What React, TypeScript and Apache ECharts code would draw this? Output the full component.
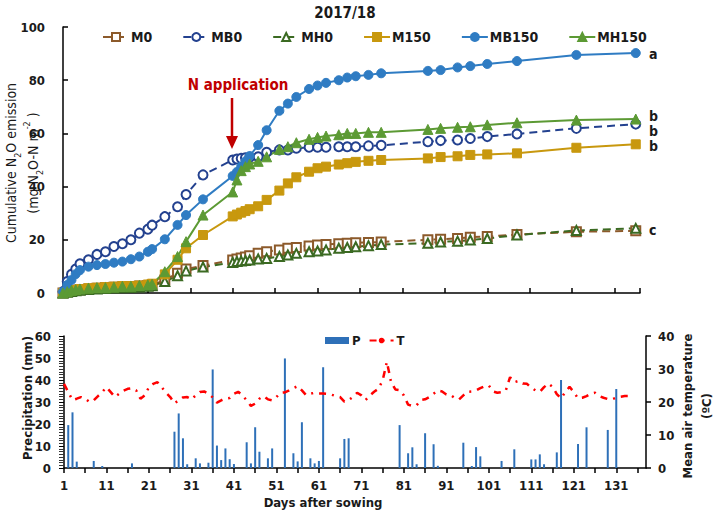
import React, { useEffect, useRef } from "react";
import * as echarts from "echarts";

const FONT = '"Liberation Sans Narrow", "DejaVu Sans Condensed", Lato, sans-serif';

// sampling days (index = day after sowing - 1)
const sampleDays = [0, 1, 2, 3, 4, 6, 8, 10, 12, 14, 16, 18, 20, 21, 24, 27, 29, 33, 40, 41, 42, 43, 44, 46, 48, 51, 53, 55, 58, 60, 62, 65, 67, 69, 72, 75, 86, 89, 93, 96, 100, 107, 121, 135];

const M0 = [0, 0.5, 0.8, 1, 1.2, 1.5, 1.8, 2, 2.2, 2.3, 2.4, 2.6, 2.8, 3, 4.9, 7.4, 9, 10.3, 12.4, 12.8, 13.2, 13.5, 14, 14.9, 15.5, 16.2, 16.8, 17.1, 17.7, 18, 18.2, 18.5, 18.7, 18.9, 19, 19.2, 20, 20.2, 20.5, 21, 21.2, 22, 23, 23.4];
const MB0 = [0.5, 4.3, 7, 9, 11, 12.5, 14.5, 15.5, 17.5, 18.5, 20, 22.5, 24, 25.5, 28.7, 32.4, 37, 44.4, 50, 50.4, 50.6, 50.8, 51, 51.2, 52.9, 53.8, 53.8, 54.4, 54.8, 54.8, 54.8, 55, 55, 55, 55.3, 55.5, 56.9, 57.3, 57.5, 58.1, 58.8, 59.8, 61.9, 63.5];
const MH0 = [0, 0.3, 0.6, 0.8, 1, 1.3, 1.5, 1.7, 1.9, 2, 2.1, 2.3, 2.5, 2.7, 4.3, 6.5, 8.3, 9.8, 11.5, 11.8, 12, 12.2, 12.4, 12.8, 13, 13.7, 14.3, 14.9, 15.5, 15.8, 16.2, 16.8, 17.1, 17.4, 17.8, 18.2, 18.7, 19.2, 19.5, 19.9, 20.5, 21.8, 23.5, 24.3];
const M150 = [0, 0.5, 1, 1.2, 1.5, 1.8, 2, 2.2, 2.4, 2.6, 2.6, 2.8, 3.2, 3.5, 7, 12.5, 16.8, 21.8, 28.8, 29.5, 30.2, 30.8, 31.5, 32.6, 35, 38.5, 41.2, 43.5, 45.6, 46.9, 47.5, 48.3, 48.8, 49.3, 49.7, 50, 50.6, 51.1, 51.4, 51.9, 52.1, 52.5, 54.6, 55.9];
const MB150 = [0.5, 3, 4.9, 7.1, 8.6, 9.9, 10.5, 10.9, 11.4, 11.8, 12.7, 13.7, 15.5, 16.5, 20.2, 25.6, 29.3, 35.2, 44, 45.5, 47.5, 49.5, 51.5, 55.6, 61.2, 68.5, 71.2, 73.7, 76.7, 78, 79, 80, 81, 81.5, 82, 82.6, 83.5, 83.8, 84.8, 85.3, 86.1, 87.2, 89.5, 90.2];
const MH150 = [0, 0.5, 1, 1.2, 1.5, 1.8, 2, 2, 2.2, 2.5, 2.5, 2.8, 3, 3.3, 8, 13.7, 19.3, 29.3, 38, 42.5, 46, 47.5, 48.5, 49.5, 51.2, 54, 55, 56.5, 57.8, 58.5, 59, 59.5, 60, 60, 60.4, 60.4, 61.5, 61.9, 62.3, 62.5, 63.2, 64, 65, 65.4];

const sigLetters = ["a", "b", "b", "b", "c"];

// precipitation (mm) by day index
const precipDays = [1, 2, 3, 7, 9, 16, 26, 27, 28, 29, 31, 32, 34, 35, 36, 37, 38, 39, 40, 43, 44, 45, 46, 48, 49, 52, 54, 55, 56, 58, 59, 60, 61, 65, 66, 67, 79, 81, 82, 83, 85, 87, 88, 94, 96, 97, 98, 103, 106, 110, 111, 112, 113, 116, 117, 121, 123, 128, 130];
const precip = [19.5, 25.3, 2.9, 3.2, 0.9, 2.1, 16.5, 24.8, 13.5, 1.7, 4.4, 2.1, 2.4, 44.8, 10.2, 3.6, 8.9, 4, 1.8, 11.7, 2.1, 18.5, 7.4, 4.4, 8.9, 49.8, 6.7, 3, 20.8, 4.4, 2.1, 3.2, 45.8, 4.4, 13.2, 13.5, 19.5, 6.7, 9.4, 1.7, 15.8, 10.8, 1, 11.5, 0.9, 9.5, 5.3, 3.2, 8.5, 3.9, 3.9, 6.2, 1.7, 7.1, 40, 10.9, 18.5, 17.3, 35.9];

// mean air temperature (ºC), daily from day index 0
const temp = [25.5, 23, 20.6, 21, 21.5, 21, 20, 20.5, 21.8, 23, 24.5, 23, 21.5, 22.5, 23.4, 24, 24.2, 23.5, 21, 22, 24.5, 25.5, 26, 24.5, 22.8, 21.5, 19.6, 20.5, 21.4, 21.5, 20.8, 22, 23, 23.2, 22.5, 21.4, 19.8, 20.5, 21.1, 21.2, 22.5, 23.1, 22, 20.5, 18.8, 19.5, 21, 21.8, 20.8, 20.5, 21.5, 22.8, 22.9, 23.5, 24.2, 24.8, 23.5, 22.1, 22.5, 22.8, 22.6, 22.6, 22.5, 22.2, 21.8, 21.5, 20.1, 20.6, 21.5, 22.8, 22, 20.6, 22, 23.1, 24, 26.5, 32.2, 26, 23.8, 23.6, 22, 19.2, 18.8, 19, 20.6, 20.8, 21.5, 22.5, 23.5, 23.2, 22.3, 22.1, 21.2, 20.8, 22, 23.1, 23.2, 23.5, 24.2, 24.8, 25, 23.2, 22.8, 23, 23.5, 27.5, 26, 26.4, 25.6, 25.5, 24.3, 23.5, 23.1, 24.5, 25.6, 24.6, 22.4, 21.1, 23, 24.6, 23, 21.1, 21.3, 21.8, 22.5, 22.8, 21.8, 21.3, 20.9, 20.8, 21.3, 21.6, 21.8, 21.8];

const dayTicks = 10;

function pairs(xs: number[], ys: number[]) {
  return xs.map((x, i) => [x, ys[i]]);
}

export default function App() {
  const ref = useRef<HTMLDivElement>(null);
  useEffect(() => {
    if (!ref.current) return;
    const chart = echarts.init(ref.current, null, { renderer: "svg" });
    const axisLineStyle = { color: "#000", width: 1.5 };
    const lbl = { color: "#1a1a1a", fontFamily: FONT, fontWeight: "bold" as const, fontSize: 13 };

    const lineSeries = (name: string, data: number[], color: string, symbol: string, dashed: boolean, size: number) => ({
      name,
      type: "line",
      xAxisIndex: 0,
      yAxisIndex: 0,
      data: pairs(sampleDays, data),
      symbol,
      symbolSize: size,
      showSymbol: true,
      lineStyle: { color, width: 2, type: dashed ? [8, 5] : "solid" },
      itemStyle: { color, borderColor: color, borderWidth: dashed ? 1.5 : 1 },
      emphasis: { disabled: true },
    });

    const option: any = {
      animation: false,
      backgroundColor: "#fff",
      title: {
        text: "2017/18",
        left: 340,
        top: 0,
        textAlign: "center",
        textStyle: { fontFamily: FONT, fontWeight: "bold", fontSize: 15, color: "#1a1a1a" },
      },
      legend: [
        {
          data: ["M0", "MB0", "MH0", "M150", "MB150", "MH150"],
          left: 97,
          top: 25,
          itemWidth: 26,
          itemHeight: 10,
          itemGap: 30,
          textStyle: { fontFamily: FONT, fontWeight: "bold", fontSize: 14, color: "#1a1a1a", padding: [0, 0, 0, -3] },
        },
        {
          data: [
            { name: "P", icon: "rect" },
            { name: "T" },
          ],
          left: 320,
          top: 329,
          itemWidth: 24,
          itemHeight: 7,
          itemGap: 8,
          textStyle: { fontFamily: FONT, fontWeight: "bold", fontSize: 13, color: "#1a1a1a", padding: [0, 0, 0, -2] },
        },
      ],
      grid: [
        { left: 63, right: 74, top: 27, height: 266 },
        { left: 64, right: 68, top: 336, height: 132 },
      ],
      xAxis: [
        {
          gridIndex: 0,
          type: "value",
          min: 0,
          max: 136,
          interval: dayTicks,
          axisLine: { show: true, onZero: false, lineStyle: axisLineStyle },
          axisTick: { show: true, inside: true, length: 5, lineStyle: { color: "#000", width: 1.5 } },
          axisLabel: { show: false },
          splitLine: { show: false },
        },
        {
          gridIndex: 1,
          type: "value",
          min: 0,
          max: 137,
          interval: 5,
          axisLine: { show: true, onZero: false, lineStyle: axisLineStyle },
          axisTick: { show: true, inside: false, length: 5, lineStyle: { color: "#000", width: 1.5 } },
          axisLabel: {
            ...lbl,
            fontSize: 13,
            margin: 11,
            showMaxLabel: false,
            formatter: (v: number) => (v % dayTicks === 0 ? String(v + 1) : ""),
          },
          splitLine: { show: false },
        },
      ],
      yAxis: [
        {
          gridIndex: 0,
          type: "value",
          min: 0,
          max: 100,
          interval: 20,
          axisLine: { show: true, lineStyle: axisLineStyle },
          axisTick: { show: true, inside: true, length: 5, lineStyle: { color: "#000", width: 1.5 } },
          axisLabel: { ...lbl, fontSize: 13, margin: 18 },
          splitLine: { show: false },
        },
        {
          gridIndex: 1,
          type: "value",
          min: 0,
          max: 60,
          interval: 10,
          axisLine: { show: true, lineStyle: axisLineStyle },
          axisTick: { show: true, length: 5, lineStyle: { color: "#000", width: 1 } },
          minorTick: { show: true, splitNumber: 8, length: 5, lineStyle: { color: "#333", width: 1 } },
          axisLabel: { ...lbl, fontSize: 13, margin: 13 },
          splitLine: { show: false },
        },
        {
          gridIndex: 1,
          type: "value",
          position: "right",
          min: 0,
          max: 40,
          interval: 10,
          axisLine: { show: true, lineStyle: axisLineStyle },
          axisTick: { show: true, length: 5, lineStyle: { color: "#000", width: 1.5 } },
          axisLabel: { ...lbl, fontSize: 13, margin: 12 },
          splitLine: { show: false },
        },
      ],
      series: [
        lineSeries("M0", M0, "#8c5a2b", "emptyRect", true, 9),
        lineSeries("MB0", MB0, "#23418f", "emptyCircle", true, 9),
        lineSeries("MH0", MH0, "#3b6a22", "emptyTriangle", true, 9),
        lineSeries("M150", M150, "#c8980e", "rect", false, 9),
        lineSeries("MB150", MB150, "#2f7cc3", "circle", false, 9),
        lineSeries("MH150", MH150, "#5c9a34", "triangle", false, 10),
        {
          name: "P",
          type: "bar",
          xAxisIndex: 1,
          yAxisIndex: 1,
          data: pairs(precipDays, precip),
          barWidth: 2,
          itemStyle: { color: "#2e70b8" },
          emphasis: { disabled: true },
        },
        {
          name: "T",
          type: "line",
          xAxisIndex: 1,
          yAxisIndex: 2,
          data: temp.map((t, i) => [i, t]),
          showSymbol: false,
          symbol: "none",
          lineStyle: { color: "#ff0000", width: 2.5, type: [7, 6, 2, 6] },
          itemStyle: { color: "#ff0000" },
          emphasis: { disabled: true },
        },
      ],
      graphic: [
        {
          type: "text",
          x: 22,
          y: 163,
          rotation: Math.PI / 2,
          style: {
            text: "{a|Cumulative N}{s|2}{a|O emission}\n{a|(mg N}{s|2}{a|O-N m}{p|-2}{a| )}",
            align: "center",
            verticalAlign: "middle",
            fill: "#1a1a1a",
            rich: {
              a: { fontFamily: FONT, fontSize: 14, lineHeight: 22, fill: "#1a1a1a" },
              s: { fontFamily: FONT, fontSize: 9, lineHeight: 22, verticalAlign: "bottom", fill: "#1a1a1a" },
              p: { fontFamily: FONT, fontSize: 9, lineHeight: 22, verticalAlign: "top", fill: "#1a1a1a" },
            },
          },
        },
        {
          type: "text",
          x: 27,
          y: 398,
          rotation: Math.PI / 2,
          style: { text: "Precipitation (mm)", align: "center", verticalAlign: "middle", fontFamily: FONT, fontWeight: "bold", fontSize: 13, fill: "#1a1a1a" },
        },
        {
          type: "text",
          x: 697,
          y: 406,
          rotation: Math.PI / 2,
          style: { text: "Mean air temperature\n(ºC)", align: "center", verticalAlign: "middle", lineHeight: 19, fontFamily: FONT, fontWeight: "bold", fontSize: 13, fill: "#1a1a1a" },
        },
        {
          type: "text",
          x: 323,
          y: 502,
          style: { text: "Days after sowing", align: "center", verticalAlign: "middle", fontFamily: FONT, fontWeight: "bold", fontSize: 13, fill: "#1a1a1a" },
        },
        {
          type: "text",
          x: 238,
          y: 85,
          style: { text: "N application", align: "center", verticalAlign: "middle", fontFamily: FONT, fontWeight: "bold", fontSize: 15, fill: "#c00000" },
        },
        { type: "line", shape: { x1: 232, y1: 98, x2: 232, y2: 140 }, style: { stroke: "#c00000", lineWidth: 2.5 } },
        { type: "polygon", shape: { points: [[226, 136], [238, 136], [232, 149]] }, style: { fill: "#c00000" } },
        ...[54, 116, 131, 146, 230].map((y, i) => ({
          type: "text",
          x: 649,
          y,
          style: { text: sigLetters[i], align: "left", verticalAlign: "middle", fontFamily: FONT, fontWeight: "bold", fontSize: 14, fill: "#1a1a1a" },
        })),
      ],
    };
    chart.setOption(option);
    return () => chart.dispose();
  }, []);
  return <div ref={ref} style={{ position: "absolute", left: 0, top: 0, width: 714, height: 510 }} />;
}
